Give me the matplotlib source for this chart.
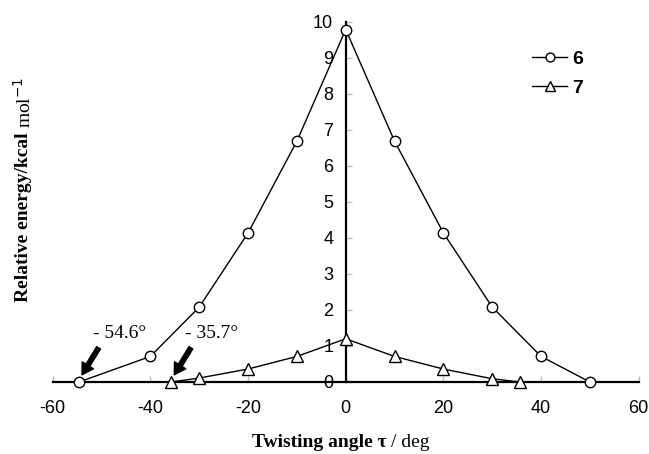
import matplotlib.pyplot as plt

plt.rcParams['axes.unicode_minus'] = False

# series 6
x6 = [-54.6, -40, -30, -20, -10, 0, 10, 20, 30, 40, 50]
y6 = [0, 0.71, 2.08, 4.14, 6.69, 9.79, 6.69, 4.14, 2.08, 0.71, 0]
# series 7
x7 = [-35.7, -30, -20, -10, 0, 10, 20, 30, 35.7]
y7 = [0, 0.11, 0.36, 0.71, 1.20, 0.71, 0.36, 0.09, 0]

xticks = [-60, -40, -20, 0, 20, 40, 60]
yticks = list(range(0, 11))
notes = ['- 54.6°', '- 35.7°']
note_x = [-54.6, -35.7]

fig = plt.figure(figsize=(6.49, 4.54), dpi=100)
ax = fig.add_axes([0.0812, 0.1586, 0.903, 0.793])

ax.plot(x6, y6, color='black', lw=1, marker='o', ms=7.5, mfc='white', mec='black', mew=1,
        label='6', clip_on=False, zorder=3)
ax.plot(x7, y7, color='black', lw=1, marker='^', ms=8, mfc='white', mec='black', mew=1,
        label='7', clip_on=False, zorder=3)

ax.set_xlim(-60, 60)
ax.set_ylim(0, 10)
ax.spines['left'].set_position(('data', 0))
ax.spines['bottom'].set_position(('data', 0))
ax.spines['top'].set_visible(False)
ax.spines['right'].set_visible(False)
ax.spines['left'].set_linewidth(1.6)
ax.spines['bottom'].set_linewidth(1.6)

ax.set_xticks(xticks)
ax.set_yticks(yticks)
ax.tick_params(axis='x', direction='in', length=4, width=1, color='#bbbbbb', pad=13, labelsize=13)
ax.tick_params(axis='y', direction='in', length=4, width=1, color='#bbbbbb', pad=9, labelsize=13)
for lab in ax.get_xticklabels() + ax.get_yticklabels():
    lab.set_fontfamily('Liberation Sans')

# annotations
for txt, xv in zip(notes, note_x):
    ax.annotate('', xy=(xv + 0.6, 0.2), xytext=(xv + 4.0, 0.95),
                arrowprops=dict(facecolor='black', edgecolor='black', width=3.2,
                                headwidth=9.5, headlength=8, shrink=0))
    ax.text(xv + 8.2, 1.35, txt, family='Liberation Serif', fontsize=14,
            ha='center', va='center')

# axis labels (bold part + regular part)
yl1 = fig.text(0.036, 0.335, 'Relative energy/kcal', rotation=90, family='Liberation Serif',
               fontweight='bold', fontsize=14, ha='center', va='bottom')
xl1 = fig.text(0.388, 0.006, 'Twisting angle τ', family='Liberation Serif',
               fontweight='bold', fontsize=14, ha='left', va='bottom')
fig.canvas.draw()
r = fig.canvas.get_renderer()
bb = yl1.get_window_extent(r)
fig.text(0.036, (bb.y1 + 4) / fig.bbox.height, 'mol$^{-1}$', rotation=90,
         family='Liberation Serif', fontsize=14, ha='center', va='bottom')
bb = xl1.get_window_extent(r)
fig.text((bb.x1 + 5) / fig.bbox.width, bb.y0 / fig.bbox.height, '/ deg',
         family='Liberation Serif', fontsize=14, ha='left', va='bottom')

ax.legend(loc='upper right', bbox_to_anchor=(0.935, 0.97), frameon=False,
          handlelength=1.8, handletextpad=0.25, labelspacing=0.6, markerscale=0.85,
          prop={'family': 'Liberation Sans', 'weight': 'bold', 'size': 14})

fig.savefig('out.png', dpi=100)
